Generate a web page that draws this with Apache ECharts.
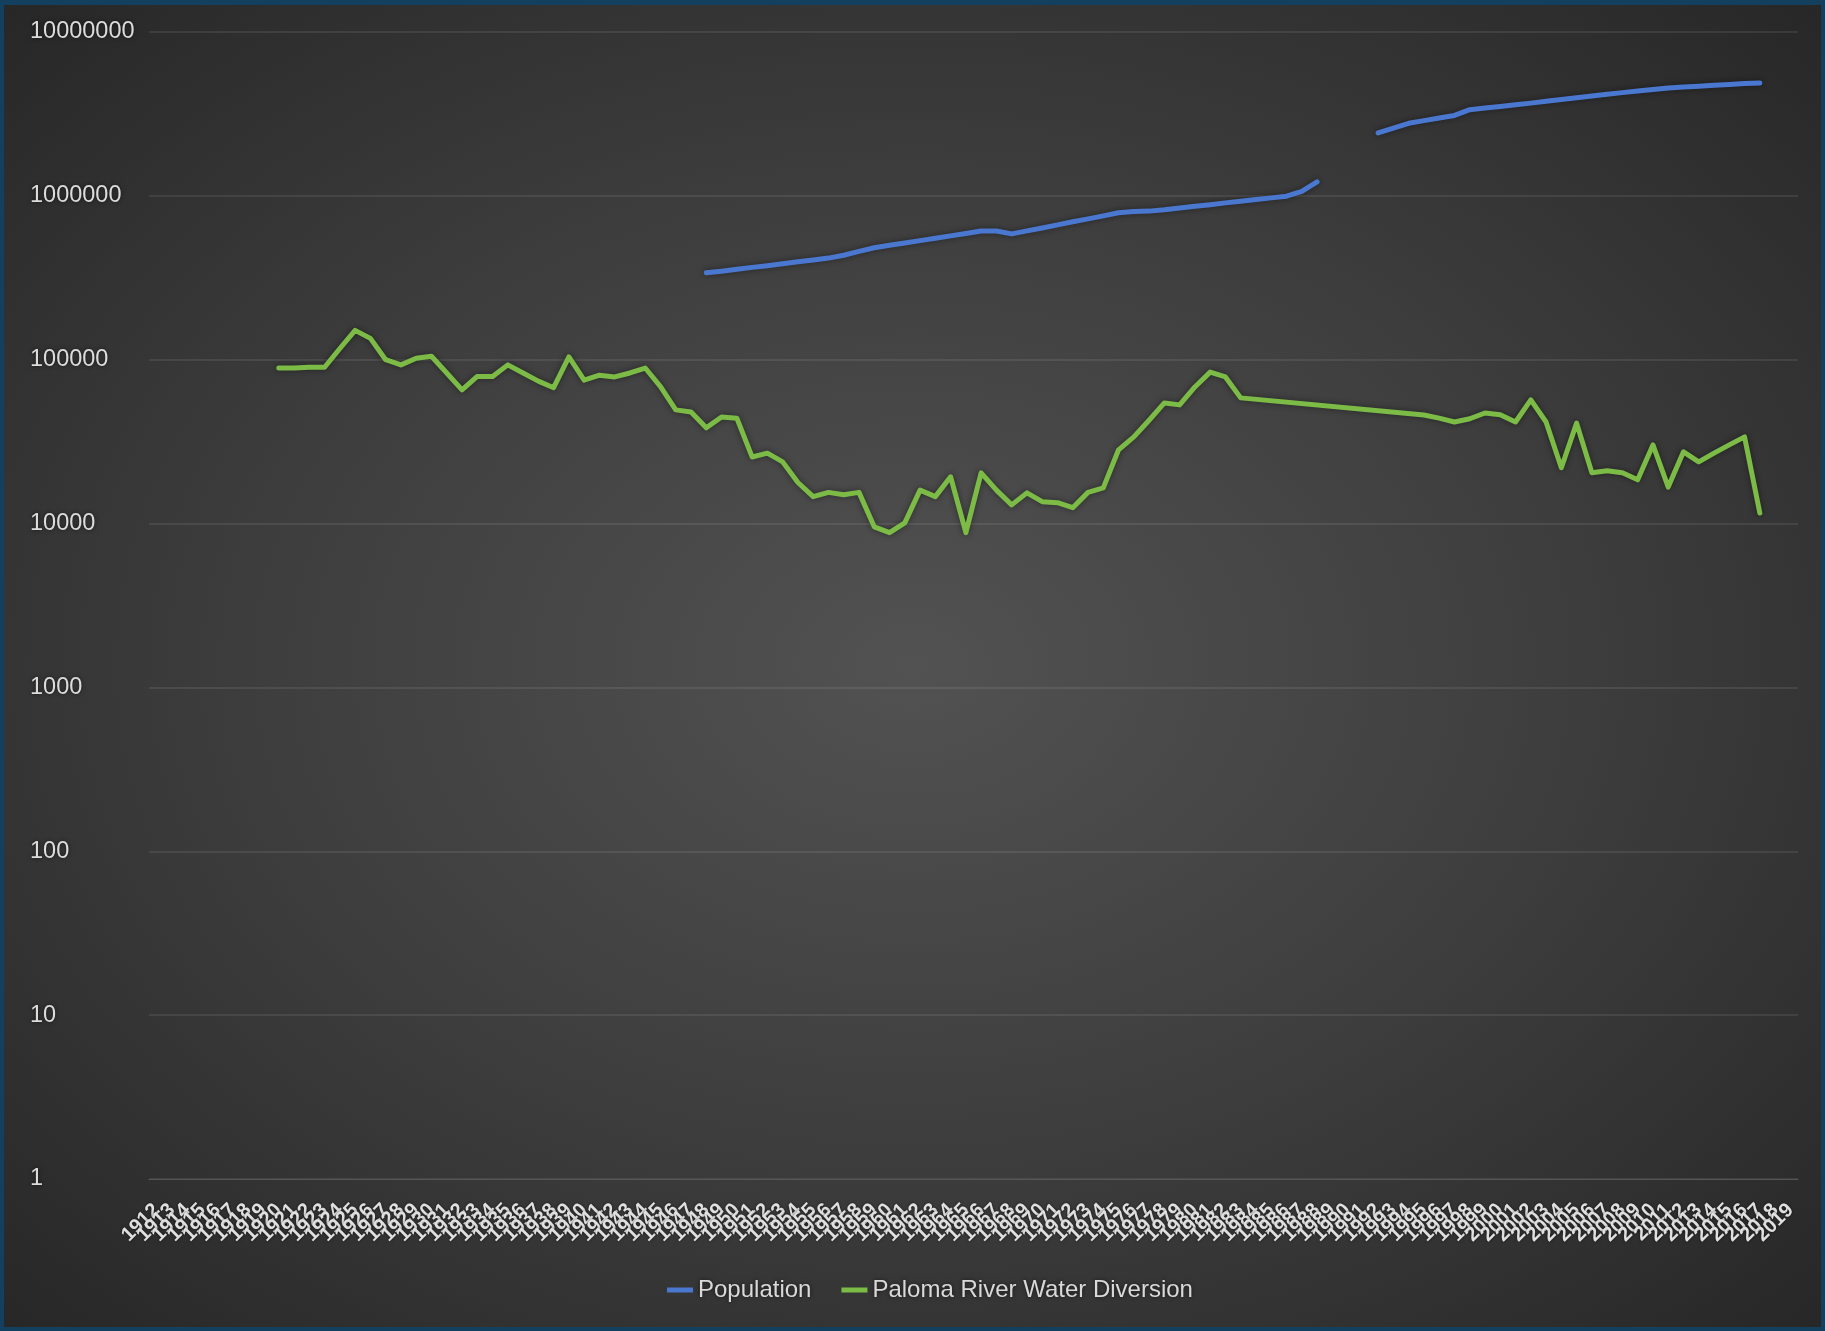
<!DOCTYPE html>
<html>
<head>
<meta charset="utf-8">
<script src="https://cdn.jsdelivr.net/npm/echarts@6/dist/echarts.min.js"></script>
<style>
  html, body { margin: 0; padding: 0; width: 1825px; height: 1331px; overflow: hidden; background: #12405e; }
  #chart {
    position: absolute; left: 4px; top: 5px; width: 1817px; height: 1322px;
    background: radial-gradient(ellipse at 50% 50%, #525252 0%, #3e3e3e 50%, #272727 100%);
  }
</style>
</head>
<body>
<div id="chart"></div>
<script>
// Category labels (years, read as best as possible from the unreadable overlapping axis)
const years = [
  '1912','1913','1914','1915','1916','1917','1918','1919','1920','1921',
  '1922','1923','1924','1925','1926','1927','1928','1929','1930','1931',
  '1932','1933','1934','1935','1936','1937','1938','1939','1940','1941',
  '1942','1943','1944','1945','1946','1947','1948','1949','1950','1951',
  '1952','1953','1954','1955','1956','1957','1958','1959','1960','1961',
  '1962','1963','1964','1965','1966','1967','1968','1969','1970','1971',
  '1972','1973','1974','1975','1976','1977','1978','1979','1980','1981',
  '1982','1983','1984','1985','1986','1987','1988','1989','1990','1991',
  '1992','1993','1994','1995','1996','1997','1998','1999','2000','2001',
  '2002','2003','2004','2005','2006','2007','2008','2009','2010','2011',
  '2012','2013','2014','2015','2016','2017','2018','2019'
];

const population = [
  null,null,null,null,null,null,null,null,null,null,
  null,null,null,null,null,null,null,null,null,null,
  null,null,null,null,null,null,null,null,null,null,
  null,null,null,null,null,null,
  339000,347000,356000,366000,375000,385000,396000,406000,417000,434000,
  458000,482000,499000,515000,533000,551000,570000,589000,610000,610000,
  586000,611000,637000,665000,695000,724000,755000,789000,802000,807000,
  822000,843000,863000,883000,906000,927000,949000,972000,995000,1064000,
  1217000,
  null,null,null,
  2420000,2594000,2773000,2877000,2985000,3097000,3357000,3436000,3508000,3597000,
  3681000,3776000,3873000,3972000,4074000,4169000,4266000,4365000,4457000,4550000,
  4613000,4667000,4732000,4786000,4853000,4890000,
  null,null
];

const diversion = [
  null,null,null,null,null,null,null,null,
  89000,89000,90000,90000,117000,151000,135000,100000,93000,102000,
  105000,83000,65500,79000,79000,93000,83000,74000,67500,104000,
  75000,80500,78500,83000,89000,68500,49400,47900,38400,44700,
  44000,25500,26900,23800,17800,14600,15500,15000,15500,9550,
  8800,10100,16000,14600,19300,8800,20400,16000,13000,15400,
  13600,13400,12500,15500,16500,28200,33800,42700,54500,53000,
  68200,84000,78500,58500,
  null,null,null,null,null,null,null,null,null,null,null,
  46000,44000,41700,43600,47300,46200,41700,56900,41700,21900,
  41000,20400,21000,20400,18500,30200,16700,27400,23800,26900,
  30200,33800,11600,
  null,null
];

const yTicks = ['1','10','100','1000','10000','100000','1000000','10000000'];

const seriesNames = ['Population', 'Paloma River Water Diversion'];
const seriesColors = ['#4a78d0', '#7bbb46'];

const chart = echarts.init(document.getElementById('chart'), null, { renderer: 'canvas' });

const textFont = 'Liberation Sans, Arial, sans-serif';

chart.setOption({
  animation: false,
  backgroundColor: 'transparent',
  grid: { left: 145, right: 23, top: 27, bottom: 148, containLabel: false, outerBoundsMode: 'none' },
  legend: {
    data: seriesNames.map((n, i) => ({ name: n, icon: 'rect', itemStyle: { color: seriesColors[i] } })),
    left: 658, top: 1268,
    itemWidth: 26, itemHeight: 5, itemGap: 30,
    textStyle: { color: '#d9d9d9', fontSize: 24, fontFamily: textFont,
      textShadowColor: 'rgba(0,0,0,0.6)', textShadowBlur: 4 }
  },
  xAxis: {
    type: 'category',
    data: years,
    boundaryGap: true,
    axisLine: { show: true, lineStyle: { color: '#555555', width: 1 } },
    axisTick: { show: false },
    axisLabel: {
      interval: 0, rotate: 45, hideOverlap: false,
      margin: 28,
      color: '#e0e0e0', fontSize: 20, fontWeight: 'bold', fontFamily: textFont,
      textShadowColor: 'rgba(0,0,0,0.6)', textShadowBlur: 3
    },
    splitLine: { show: false }
  },
  yAxis: {
    type: 'log',
    logBase: 10,
    min: 1,
    max: 10000000,
    interval: 1,
    axisLine: { show: false },
    axisTick: { show: false },
    axisLabel: {
      align: 'left', margin: 119, padding: [6, 0, 0, 0],
      color: '#dcdcdc', fontSize: 23.5, fontFamily: textFont,
      textShadowColor: 'rgba(0,0,0,0.6)', textShadowBlur: 4,
      formatter: function (v) {
        const idx = Math.round(Math.log10(v));
        return yTicks[idx] !== undefined ? yTicks[idx] : String(Math.round(v));
      }
    },
    splitLine: { show: true, lineStyle: { color: 'rgba(255,255,255,0.11)', width: 1.5 } }
  },
  series: [
    {
      name: seriesNames[0], type: 'line', data: population,
      symbol: 'none', connectNulls: false,
      lineStyle: { color: seriesColors[0], width: 5, cap: 'round', join: 'round',
        shadowColor: 'rgba(0,0,0,0.45)', shadowBlur: 6 },
      itemStyle: { color: seriesColors[0] }
    },
    {
      name: seriesNames[1], type: 'line', data: diversion,
      symbol: 'none', connectNulls: true,
      lineStyle: { color: seriesColors[1], width: 5, cap: 'round', join: 'round',
        shadowColor: 'rgba(0,0,0,0.45)', shadowBlur: 6 },
      itemStyle: { color: seriesColors[1] }
    }
  ]
});
</script>
</body>
</html>
